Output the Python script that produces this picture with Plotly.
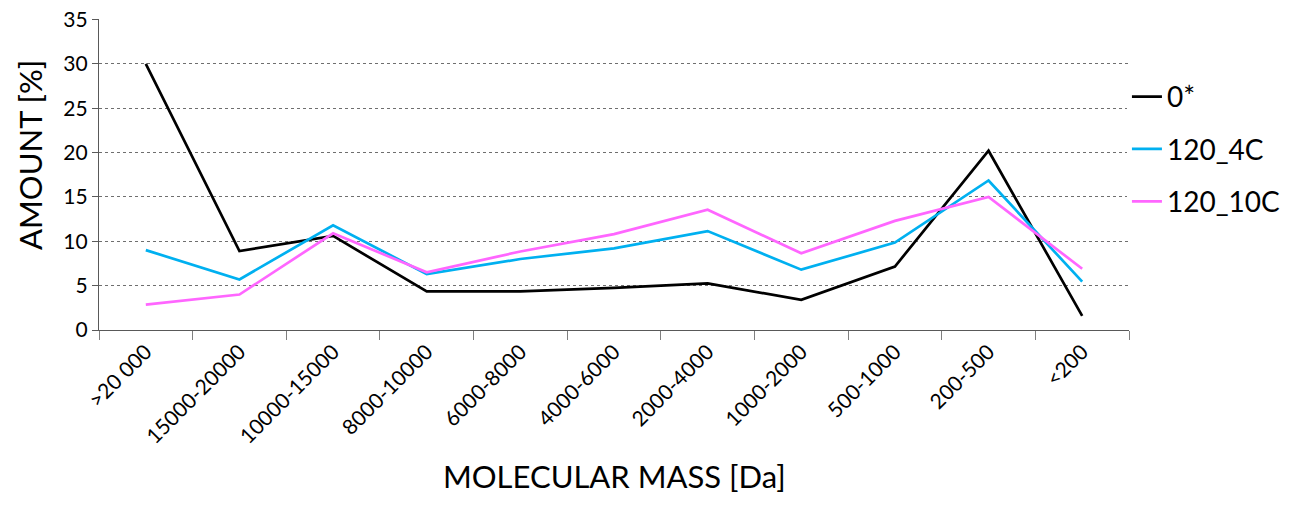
import plotly.graph_objects as go

categories = [">20 000", "15000-20000", "10000-15000", "8000-10000", "6000-8000",
              "4000-6000", "2000-4000", "1000-2000", "500-1000", "200-500", "<200"]
s0 = [30.0, 8.9, 10.6, 4.35, 4.35, 4.75, 5.25, 3.4, 7.15, 20.2, 1.6]
s4c = [9.0, 5.7, 11.8, 6.3, 8.0, 9.2, 11.15, 6.8, 9.85, 16.85, 5.45]
s10c = [2.85, 4.0, 10.9, 6.5, 8.85, 10.8, 13.55, 8.65, 12.3, 15.0, 6.9]
names = ["0*", "120_4C", "120_10C"]
colors = ["#000000", "#00B0F0", "#FF66FF"]

fig = go.Figure()
for i, (name, vals, col) in enumerate(zip(names, [s0, s4c, s10c], colors)):
    fig.add_trace(go.Scatter(x=categories, y=vals, name=name, mode="lines",
                             line=dict(color=col, width=2.7), legendgroup=str(i)))

font_family = "Lato, Open Sans, sans-serif"
fig.update_layout(
    width=1307, height=508,
    margin=dict(l=99, r=178, t=19, b=178),
    plot_bgcolor="white", paper_bgcolor="white",
    font=dict(family=font_family, color="#000000"),
    legend=dict(x=0.998, y=0.83, xanchor="left", yanchor="top",
                font=dict(size=28, family=font_family), tracegroupgap=13,
                traceorder="grouped"),
    showlegend=True,
    annotations=[
        dict(text="AMOUNT [%]", xref="paper", yref="paper", x=-0.067, y=0.563,
             xanchor="center", yanchor="middle", textangle=-90, showarrow=False,
             font=dict(size=31)),
        dict(text="MOLECULAR MASS [Da]", xref="paper", yref="paper", x=0.5, y=-0.469,
             xanchor="center", yanchor="middle", showarrow=False,
             font=dict(size=31)),
    ],
)
fig.update_xaxes(
    type="category", tickangle=-45, tickfont=dict(size=21),
    ticks="outside", tickson="boundaries", ticklen=9, tickcolor="#7f7f7f",
    showline=True, linecolor="#595959", linewidth=1.3, showgrid=False,
    range=[-0.5, 10.5], automargin=False,
)
fig.update_yaxes(
    range=[0, 35.05], tickvals=[0, 5, 10, 15, 20, 25, 30, 35], tickfont=dict(size=21),
    ticks="outside", ticklen=6, tickcolor="#595959", ticklabeloverflow="allow",
    showline=True, linecolor="#595959", linewidth=1.3,
    showgrid=True, gridcolor="#6f6f6f", griddash="dot", gridwidth=1,
    zeroline=False, automargin=False,
)
fig.write_html("out.html", config={"displayModeBar": False},
               post_script="document.body.style.margin='0';")
